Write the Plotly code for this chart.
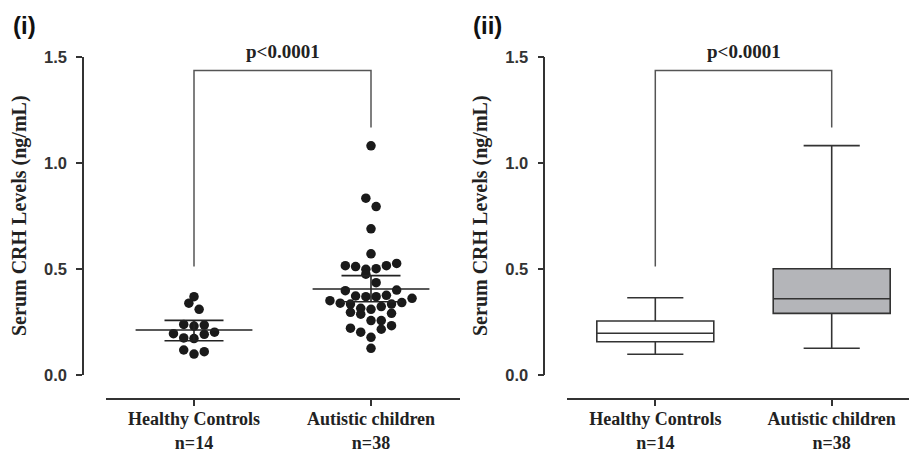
import plotly.graph_objects as go

# ---------------- data ----------------
categories = ["Healthy Controls", "Autistic children"]
group_n = [14, 38]
y_ticks = [0.0, 0.5, 1.0, 1.5]

healthy_values = [0.370, 0.339, 0.310, 0.239, 0.231, 0.236, 0.195, 0.192,
                  0.202, 0.175, 0.172, 0.118, 0.099, 0.110]
healthy_slots = [0, -0.5, 0.5, -1, 0, 1, -2, 1, 2, -1, 0, -1, 0, 1]

autistic_values = [1.082, 0.835, 0.795, 0.690, 0.572,
                   0.516, 0.512, 0.499, 0.502, 0.516, 0.527, 0.476,
                   0.436, 0.398, 0.401,
                   0.373, 0.370, 0.370, 0.376,
                   0.351, 0.339, 0.335, 0.335, 0.342, 0.362,
                   0.296, 0.315, 0.310, 0.323, 0.291, 0.287,
                   0.257, 0.257, 0.221, 0.202, 0.216, 0.233, 0.178, 0.126]
autistic_slots = [0, -0.5, 0.5, 0, 0,
                  -2.5, -1.5, -0.5, 0.5, 1.5, 2.5, -0.5,
                  0.5, -2.5, 2.5,
                  -1.5, -0.5, 0.5, 1.5,
                  -4, -3, -2, 2, 3, 4,
                  -2, -1, 0, 1, 2, -1,
                  0, 1, -2, -1, 1, 2, 0, 0]

mean_values = [0.2126, 0.406]
err_upper = [0.258, 0.469]
err_lower = [0.162, 0.346]

box_q1 = [0.157, 0.291]
box_median = [0.197, 0.360]
box_q3 = [0.255, 0.502]
box_min = [0.098, 0.126]
box_max = [0.365, 1.083]

bracket_left_low = 0.512
bracket_top = 1.438
bracket_right_low = 1.168
p_text = "p<0.0001"

# ---------------- styling ----------------
W, H = 909, 452
INK = "#222222"
AX = "#333333"
SERIF = "Liberation Serif"
SANS = "Liberation Sans"
slot_step = 0.058
mean_half = 0.33

def px(v):
    return v / W

def py(v):
    return (H - v) / H

y_dom = [py(375), py(57.3)]
x_pos = [0, 1]
tick_text = [f"{c}<br>n={n}" for c, n in zip(categories, group_n)]

fig = go.Figure()

# ---- panel (i): dot plot ----
fig.add_trace(go.Scatter(
    x=[x_pos[0] + s * slot_step for s in healthy_slots], y=healthy_values,
    mode="markers", marker=dict(size=9.5, color="#1a1a1a"),
    xaxis="x", yaxis="y", showlegend=False, hoverinfo="skip"))
fig.add_trace(go.Scatter(
    x=[x_pos[1] + s * slot_step for s in autistic_slots], y=autistic_values,
    mode="markers", marker=dict(size=9.5, color="#1a1a1a"),
    xaxis="x", yaxis="y", showlegend=False, hoverinfo="skip"))
for i, m in enumerate(mean_values):
    fig.add_trace(go.Scatter(
        x=[x_pos[i] - mean_half, x_pos[i] + mean_half], y=[m, m],
        mode="lines", line=dict(color=INK, width=1.6),
        xaxis="x", yaxis="y", showlegend=False, hoverinfo="skip"))
fig.add_trace(go.Scatter(
    x=x_pos, y=mean_values, mode="markers",
    marker=dict(size=1, color="rgba(0,0,0,0)"),
    error_y=dict(type="data", symmetric=False,
                 array=[u - m for u, m in zip(err_upper, mean_values)],
                 arrayminus=[m - l for l, m in zip(err_lower, mean_values)],
                 color=INK, thickness=1.6, width=29.5),
    xaxis="x", yaxis="y", showlegend=False, hoverinfo="skip"))

# ---- panel (ii): box plot ----
box_fills = ["white", "#b4b5b9"]
for i in range(2):
    fig.add_trace(go.Box(
        x=[x_pos[i]], q1=[box_q1[i]], median=[box_median[i]], q3=[box_q3[i]],
        lowerfence=[box_min[i]], upperfence=[box_max[i]],
        width=0.663, whiskerwidth=0.48, fillcolor=box_fills[i],
        line=dict(color=AX, width=1.6), boxpoints=False,
        xaxis="x2", yaxis="y2", showlegend=False, hoverinfo="skip"))

# ---- brackets ----
for xa, ya in (("x", "y"), ("x2", "y2")):
    fig.add_trace(go.Scatter(
        x=[x_pos[0], x_pos[0], x_pos[1], x_pos[1]],
        y=[bracket_left_low, bracket_top, bracket_top, bracket_right_low],
        mode="lines", line=dict(color="#555555", width=1.5),
        xaxis=xa, yaxis=ya, showlegend=False, hoverinfo="skip"))

common_x = dict(showgrid=False, zeroline=False, showline=True, linecolor=AX,
                linewidth=1.5, ticks="outside", ticklen=6, tickwidth=1.5,
                tickcolor=AX, tickvals=x_pos, ticktext=tick_text,
                tickfont=dict(family=SERIF, size=18, color=INK, weight="bold"),
                ticklabelstandoff=-2, automargin=False,
                anchor="free", position=py(399), fixedrange=True)
common_y = dict(showgrid=False, zeroline=False, showline=True, linecolor=AX,
                linewidth=1.5, ticks="outside", ticklen=6, tickwidth=1.5,
                tickcolor=AX, tickvals=y_ticks, tickformat=".1f",
                tickfont=dict(family=SANS, size=16.5, color=AX, weight="bold"),
                ticklabelstandoff=6, automargin=False,
                range=[0, 1.5], domain=y_dom, anchor="free", fixedrange=True)

fig.update_layout(
    width=W, height=H, margin=dict(l=0, r=0, t=0, b=0, autoexpand=False),
    paper_bgcolor="white", plot_bgcolor="white",
    xaxis=dict(**common_x, domain=[px(105.5), px(459.5)], range=[-0.5, 1.5]),
    yaxis=dict(**common_y, position=px(83)),
    xaxis2=dict(**common_x, domain=[px(567.1), 1.0], range=[-0.5, (909 - 655.3) / 176.4]),
    yaxis2=dict(**common_y, position=px(544.3)),
)

annots = []
for lab, xl, xt, xr, yr in (("(i)", 11, 20, "x", "y"), ("(ii)", 471, 481, "x2", "y2")):
    annots.append(dict(text=lab, xref="paper", yref="paper", x=px(xl), y=py(25),
                       xanchor="left", yanchor="middle", showarrow=False,
                       font=dict(family=SANS, size=24, color="#111111", weight="bold")))
    annots.append(dict(text="Serum CRH Levels (ng/mL)", xref="paper", yref="paper",
                       x=px(xt), y=py(216), xanchor="center", yanchor="middle",
                       textangle=-90, showarrow=False,
                       font=dict(family=SERIF, size=20, color=INK, weight="bold")))
    annots.append(dict(text=p_text, xref=xr, yref=yr, x=0.5, y=bracket_top,
                       xanchor="center", yanchor="bottom", yshift=6, showarrow=False,
                       font=dict(family=SERIF, size=19, color=INK, weight="bold")))
fig.update_layout(annotations=annots)

fig.write_html("out.html")
